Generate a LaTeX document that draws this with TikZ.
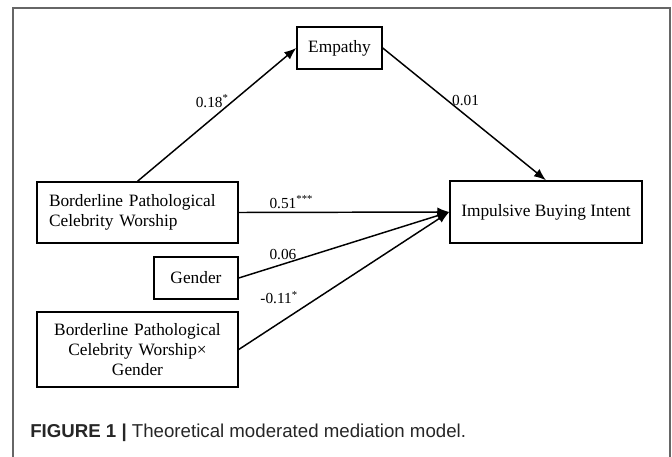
\documentclass[tikz,border=0pt]{standalone}
\usepackage{fontspec}
\setmainfont{Liberation Serif}
\newfontfamily\capfont{Liberation Sans}
\usetikzlibrary{positioning, arrows.meta}

\tikzset{
	var/.style={draw, line width=1.1pt, inner sep=0pt, font=\fontsize{13}{15}\selectfont},
	effect/.style={line width=1.1pt, -{Latex[length=9pt, width=7pt]}},
	coef/.style={font=\fontsize{11.5}{13}\selectfont, inner sep=2.5pt},
}

\begin{document}
\begin{tikzpicture}[x=0.75pt, y=-0.75pt]
			\useasboundingbox (0,0) rectangle (672,457);
			\draw [black!60, line width=1.3pt] (13,457) -- (13,8) -- (670,8) -- (670,457);
			\node (emp) [var, minimum width=63.75pt, minimum height=31.5pt] at (339.5,48) {Empathy};
			\node (ibi) [var, minimum width=144pt, minimum height=46.5pt] at (546,212) {Impulsive Buying Intent};
			\node (bpcw) [var, text width=132.75pt, inner xsep=9pt, align=left, minimum height=45.75pt]
				at (137.5,212.5) {Borderline Pathological\\Celebrity Worship};
			\node (gen) [var, minimum width=63pt, minimum height=31.5pt] at (196,278) {Gender};
			\node (inter) [var, text width=132.75pt, inner xsep=9pt, align=center, minimum height=56.25pt]
				at (137.5,349.5) {Borderline Pathological\\Celebrity Worship×\\Gender};
			\draw [effect] (bpcw.north) -- (emp.west) node [coef, pos=0.6, left] {0.18\textsuperscript{*}};
			\draw [effect] (emp.east) -- (ibi.north) node [coef, pos=0.4, right] {0.01};
			\draw [effect] (bpcw.east) -- (ibi.west) node [coef, pos=0.25, above] {0.51\textsuperscript{***}};
			\draw [effect] (gen.east) -- (ibi.west) node [coef, pos=0.21, above] {0.06};
			\draw [effect] (inter.east) -- (ibi.west) node [coef, pos=0.3, above left] {-0.11\textsuperscript{*}};
			\node (cap) [anchor=west, inner sep=0pt, text=black!85, font=\capfont\fontsize{14}{16}\selectfont]
				at (30,433) {\textbf{FIGURE 1 |} Theoretical moderated mediation model.};
		\end{tikzpicture}
\end{document}
